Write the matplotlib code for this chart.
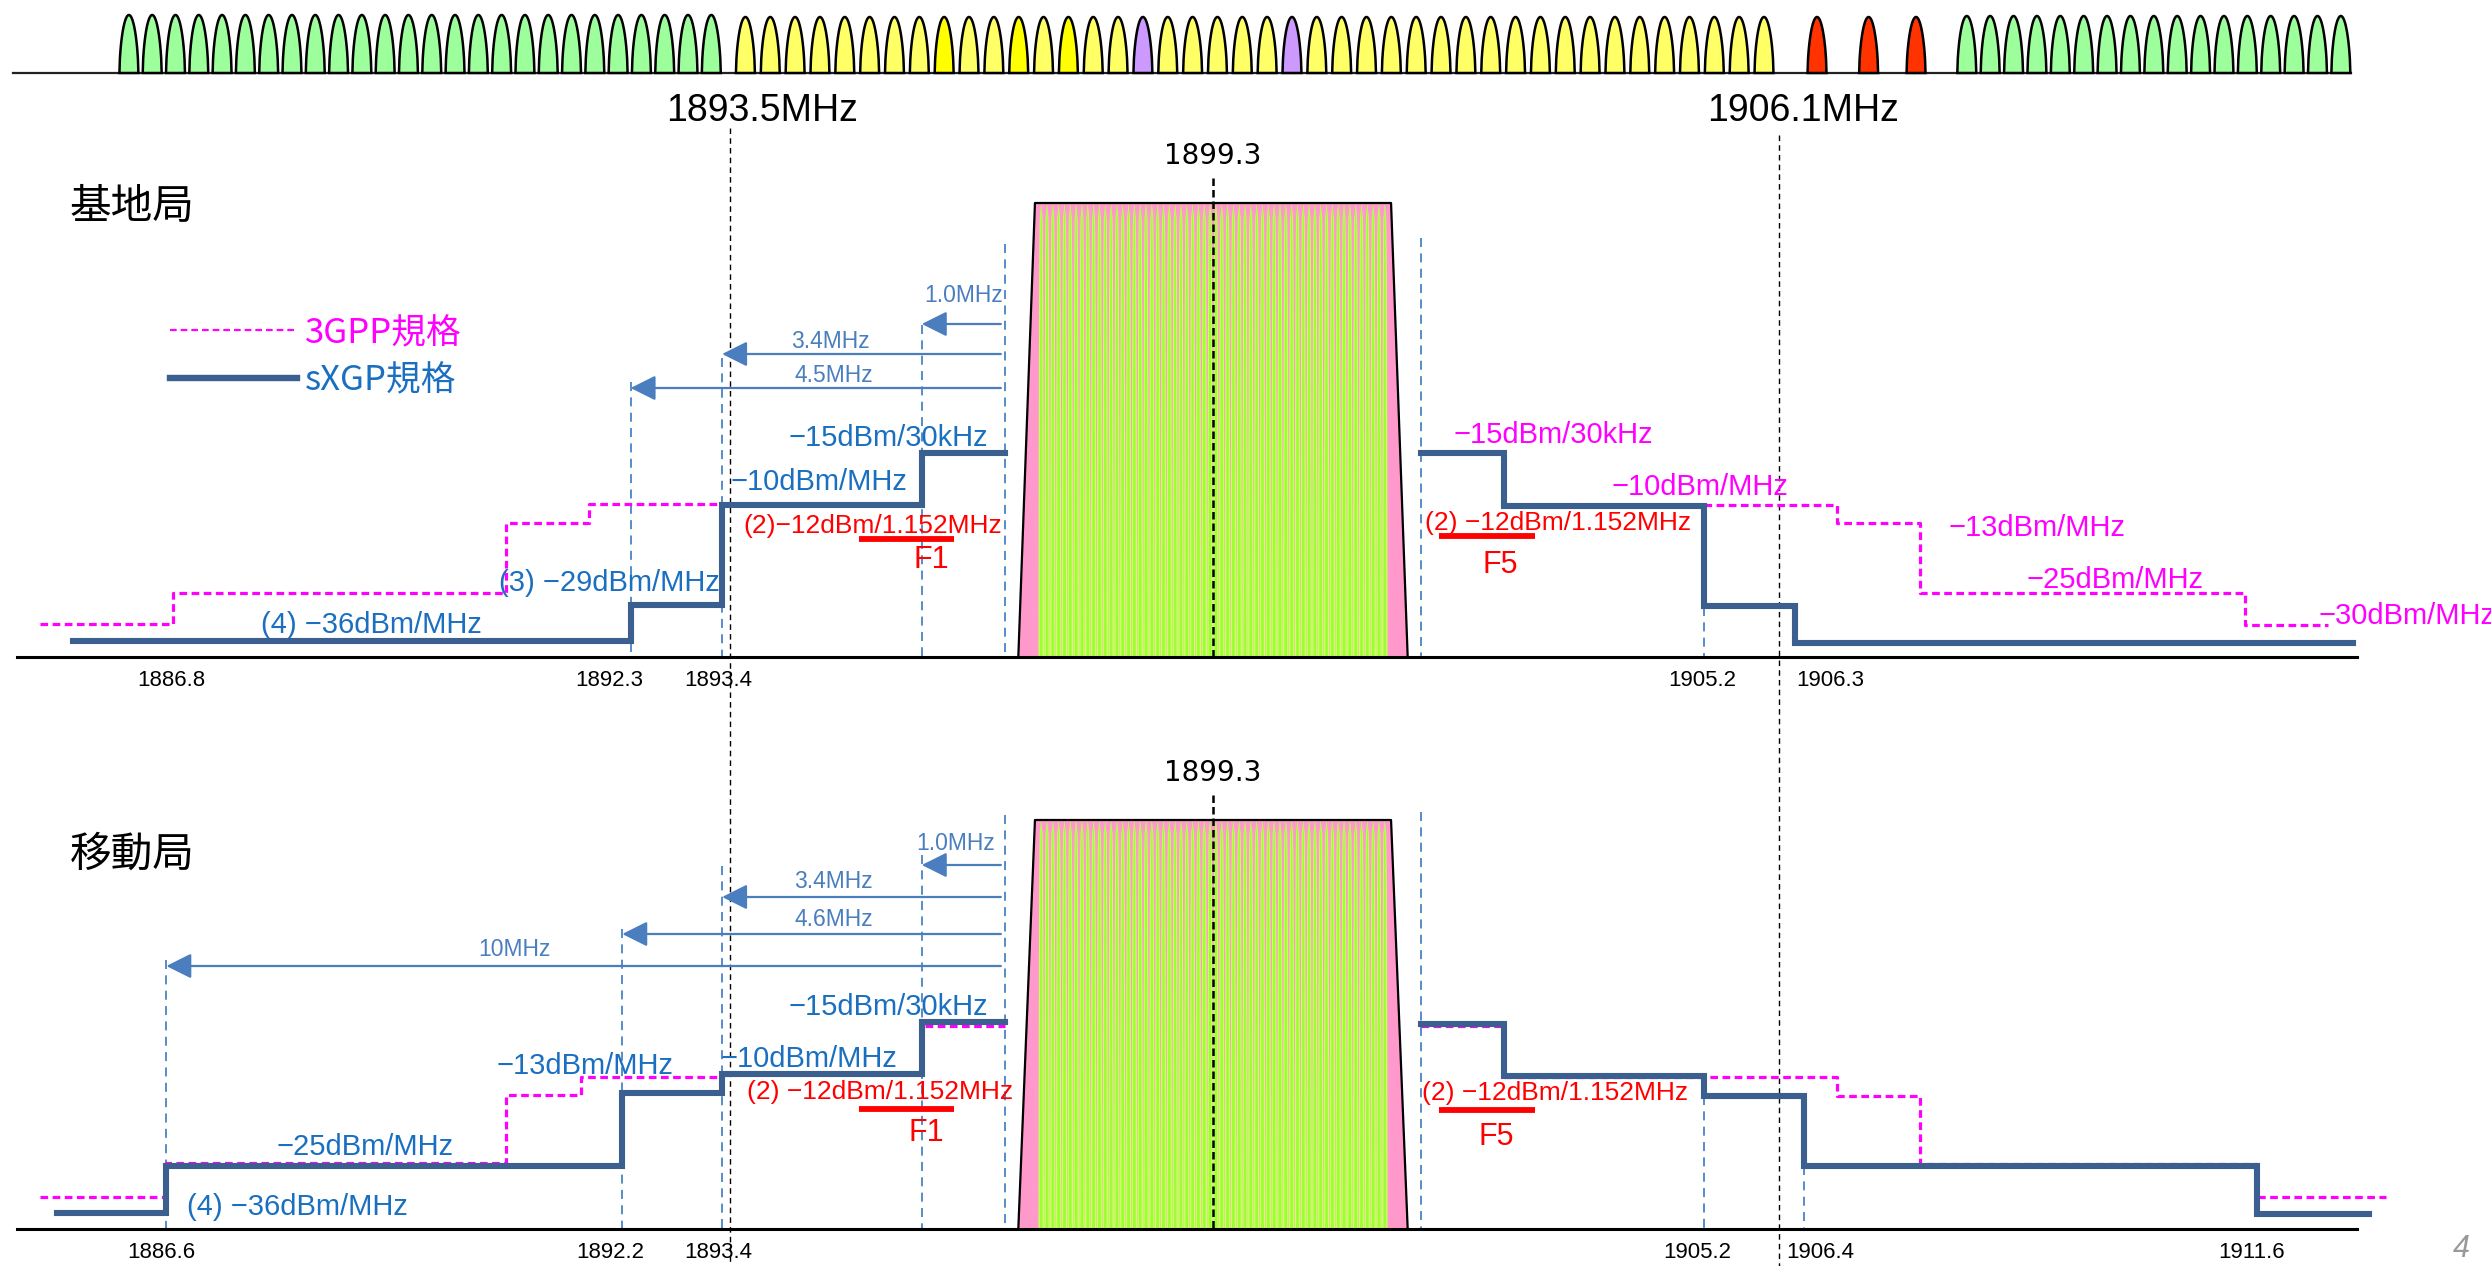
"""sXGP vs 3GPP spectrum emission mask diagram (base station / mobile station)."""
import numpy as np
import matplotlib
matplotlib.use("Agg")
import matplotlib.pyplot as plt
from matplotlib.collections import PolyCollection

# ---- data (frequencies in MHz, mask levels as drawing heights above each panel's axis) ----
BS_SXGP_L_EDGES = [1885.6, 1892.3, 1893.4, 1895.8, 1896.8]
BS_SXGP_L_LEVELS = [16, 52, 152, 204]
BS_SXGP_R_EDGES = [1901.8, 1902.8, 1905.2, 1906.3, 1913.0]
BS_SXGP_R_LEVELS = [204, 151, 51, 14]
BS_3GPP_L_EDGES = [1885.2, 1886.8, 1890.8, 1891.8, 1893.4]
BS_3GPP_L_LEVELS = [33, 64, 134, 153]
BS_3GPP_R_EDGES = [1905.2, 1906.8, 1907.8, 1911.7, 1912.7]
BS_3GPP_R_LEVELS = [152, 134, 64, 32]

MS_SXGP_L_EDGES = [1885.4, 1886.72, 1892.2, 1893.4, 1895.8, 1896.8]
MS_SXGP_L_LEVELS = [16, 63, 136, 155, 207]
MS_SXGP_R_EDGES = [1901.8, 1902.8, 1905.2, 1906.4, 1911.85, 1913.2]
MS_SXGP_R_LEVELS = [205, 153, 133, 63, 15]
MS_3GPP_L_EDGES = [1885.2, 1886.72, 1890.8, 1891.7, 1893.4, 1895.8, 1896.8]
MS_3GPP_L_LEVELS = [32, 66, 134, 152, 155, 203]
MS_3GPP_R_EDGES = [1901.8, 1902.8, 1906.8, 1907.8, 1911.85, 1913.4]
MS_3GPP_R_LEVELS = [203, 152, 133, 65, 32]

BS_ARROW_TIPS = [1895.8, 1893.4, 1892.3]
BS_ARROW_TEXT = ["1.0MHz", "3.4MHz", "4.5MHz"]
MS_ARROW_TIPS = [1895.8, 1893.4, 1892.2, 1886.72]
MS_ARROW_TEXT = ["1.0MHz", "3.4MHz", "4.6MHz", "10MHz"]

BS_GUIDES = [1892.3, 1893.4, 1895.8, 1896.8, 1901.8, 1905.2]
MS_GUIDES = [1886.72, 1892.2, 1893.4, 1895.8, 1896.8, 1901.8, 1905.2, 1906.4]

BS_TICKS = ["1886.8", "1892.3", "1893.4", "1905.2", "1906.3"]
BS_TICK_POS = [1886.78, 1892.04, 1893.35, 1905.18, 1906.72]
MS_TICKS = ["1886.6", "1892.2", "1893.4", "1905.2", "1906.4", "1911.6"]
MS_TICK_POS = [1886.66, 1892.05, 1893.35, 1905.12, 1906.6, 1911.78]

CENTER = 1899.3
BAND_EDGES = [1893.5, 1906.1]
F1_BAND = [1895.04, 1896.19]
F5_BAND = [1902.02, 1903.17]

# top strip: channel groups
GREEN_L_START, GREEN_L_N, GREEN_L_STEP = 1886.27, 26, 0.280
YELLOW_START, YELLOW_N, YELLOW_STEP = 1893.68, 42, 0.2986
YELLOW_BRIGHT = [8, 11, 13]
YELLOW_PURPLE = [16, 22]
RED_CH = [1906.56, 1907.18, 1907.75]
GREEN_R_START, GREEN_R_N, GREEN_R_STEP = 1908.36, 17, 0.281

# ---- style ----
SXGP = "#3b5f8e"
MAG = "#ff00ff"
TXT_BLUE = "#1a6fc0"
ARROW = "#4a7ebf"
GUIDE = "#4a84c4"
RED = "#ff0000"
LAT = ["Liberation Sans", "DejaVu Sans"]
JP = ["Noto Sans CJK JP", "DejaVu Sans"]

F0 = CENTER - 1213 / 83.2
F1 = F0 + 2491 / 83.2

fig = plt.figure(figsize=(24.91, 12.66), dpi=100)
ax = fig.add_axes([0, 0, 1, 1])
ax.set_xlim(F0, F1)
ax.set_ylim(1266, 0)
ax.axis("off")


def steps(edges, levels, base):
    xs = np.repeat(edges, 2)[1:-1]
    ys = base - np.repeat(levels, 2)
    return xs, ys


def label(x, y, s, color="black", size=21, ha="center", family=LAT, **kw):
    ax.text(x, y, s, color=color, fontsize=size, ha=ha, va="center", family=family, **kw)


# ---- top channel strip ----
SB = 73


def bump(xc, h, color, hw=0.114):
    u = np.linspace(-1, 1, 41)
    ax.fill(xc + hw * u, SB - h * (1 - u ** 2) ** 0.6, facecolor=color,
            edgecolor="black", lw=1.8, zorder=3)


ax.plot([1884.88, 1912.98], [SB, SB], color="#222222", lw=1.6, zorder=2)
for i in range(GREEN_L_N):
    bump(GREEN_L_START + i * GREEN_L_STEP, 58, "#9cff9c")
for i in range(YELLOW_N):
    c = "#ffff00" if i in YELLOW_BRIGHT else "#cc99ff" if i in YELLOW_PURPLE else "#ffff66"
    bump(YELLOW_START + i * YELLOW_STEP, 56, c)
for f in RED_CH:
    bump(f, 56, "#ff3300")
for i in range(GREEN_R_N):
    bump(GREEN_R_START + i * GREEN_R_STEP, 57, "#9cff9c")

label(1893.88, 111, "1893.5MHz", size=27)
label(1906.39, 111, "1906.1MHz", size=27)
for f, y0 in zip(BAND_EDGES, [128, 135]):
    ax.plot([f, f], [y0, 1266], color="black", lw=1.0, dashes=(4, 3), zorder=2)


# ---- one mask panel ----
def panel(base, top, title, title_y, sx_l, sx_r, gp_l, gp_r, guides, guide_tops,
          tips, tip_ys, tip_txt, ticks, tick_pos, red_y):
    # axis
    ax.plot([1884.92, 1913.05], [base, base], color="black", lw=2.2, zorder=4)
    # occupied spectrum block
    tx = [1896.96, 1897.16, 1901.44, 1901.64]
    ax.fill([tx[0], tx[1], tx[2], tx[3]], [base, top, top, base], facecolor="#ff99cc",
            edgecolor="none", zorder=2)
    centers = np.linspace(1897.2, 1901.4, 61)
    centers = centers[:-1] + np.diff(centers) / 2
    t = np.linspace(0, 1, 30)
    ys = top + t * (base - top)
    outer, inner = [], []
    for c in centers:
        hw = 0.0335 * t ** 0.2
        outer.append(np.column_stack([np.r_[c - hw, (c + hw)[::-1]], np.r_[ys, ys[::-1]]]))
        hw2 = hw * 0.5
        inner.append(np.column_stack([np.r_[c - hw2, (c + hw2)[::-1]], np.r_[ys, ys[::-1]]]))
    ax.add_collection(PolyCollection(outer, facecolors="#ccff66", edgecolors="none", zorder=2.1))
    ax.add_collection(PolyCollection(inner, facecolors="#9cff33", edgecolors="none", zorder=2.2))
    ax.plot([tx[0], tx[1], tx[2], tx[3]], [base, top, top, base], color="black", lw=1.6,
            zorder=2.5)
    ax.plot([CENTER, CENTER], [top - 25, base], color="black", lw=1.8, dashes=(3, 1.6),
            zorder=2.6)
    label(CENTER, top - 47, "1899.3", size=20, family=["DejaVu Sans"])

    # guides
    for f, y0 in zip(guides, guide_tops):
        ax.plot([f, f], [y0, base], color=GUIDE, lw=1.3, dashes=(5, 3.5), zorder=3)
    # 3GPP (dashed) then sXGP (solid)
    for edges, lev in gp_l + gp_r:
        xs, ys_ = steps(edges, lev, base)
        ax.plot(xs, ys_, color=MAG, lw=2.3, dashes=(2.4, 1.4), zorder=5)
    for edges, lev in sx_l + sx_r:
        xs, ys_ = steps(edges, lev, base)
        ax.plot(xs, ys_, color=SXGP, lw=4.4, solid_joinstyle="miter", zorder=6)
    # offset arrows
    for tip, y, s in zip(tips, tip_ys, tip_txt):
        ax.annotate("", xy=(tip, y), xytext=(1896.75, y),
                    arrowprops=dict(arrowstyle="-|>,head_length=0.7,head_width=0.35",
                                    color=ARROW, lw=1.6, shrinkA=0, shrinkB=0,
                                    mutation_scale=22), zorder=7)
    # F1 / F5 bars
    ax.plot(F1_BAND, [red_y[0], red_y[0]], color=RED, lw=4.2, solid_capstyle="butt", zorder=7)
    ax.plot(F5_BAND, [red_y[1], red_y[1]], color=RED, lw=4.2, solid_capstyle="butt", zorder=7)
    for f, s in zip(tick_pos, ticks):
        label(f, base + 23, s, size=16)
    label(1885.56, title_y, title, size=30, ha="left", family=JP)


panel(657, 203, "基地局", 207,
      [(BS_SXGP_L_EDGES, BS_SXGP_L_LEVELS)], [(BS_SXGP_R_EDGES, BS_SXGP_R_LEVELS)],
      [(BS_3GPP_L_EDGES, BS_3GPP_L_LEVELS)], [(BS_3GPP_R_EDGES, BS_3GPP_R_LEVELS)],
      BS_GUIDES, [382, 358, 325, 244, 238, 607],
      BS_ARROW_TIPS, [324, 354, 388], BS_ARROW_TEXT, BS_TICKS, BS_TICK_POS, [539, 536])

panel(1229, 820, "移動局", 855,
      [(MS_SXGP_L_EDGES, MS_SXGP_L_LEVELS)], [(MS_SXGP_R_EDGES, MS_SXGP_R_LEVELS)],
      [(MS_3GPP_L_EDGES, MS_3GPP_L_LEVELS)], [(MS_3GPP_R_EDGES, MS_3GPP_R_LEVELS)],
      MS_GUIDES, [960, 929, 866, 855, 815, 812, 1096, 1166],
      MS_ARROW_TIPS, [865, 897, 934, 966], MS_ARROW_TEXT, MS_TICKS, MS_TICK_POS, [1109, 1110])

# arrow labels
label(1896.78, 296, BS_ARROW_TEXT[0], color=ARROW, size=16.5, ha="right")
label(1894.70, 342, BS_ARROW_TEXT[1], color=ARROW, size=16.5)
label(1894.74, 376, BS_ARROW_TEXT[2], color=ARROW, size=16.5)
label(1896.68, 843, MS_ARROW_TEXT[0], color=ARROW, size=16.5, ha="right")
label(1894.74, 882, MS_ARROW_TEXT[1], color=ARROW, size=16.5)
label(1894.74, 920, MS_ARROW_TEXT[2], color=ARROW, size=16.5)
label(1890.90, 950, MS_ARROW_TEXT[3], color=ARROW, size=16.5)

# legend
ax.plot([1886.76, 1888.29], [330, 330], color=MAG, lw=1.6, dashes=(3, 1.8))
ax.plot([1886.76, 1888.29], [378, 378], color=SXGP, lw=4.6)
label(1888.39, 334, "3GPP規格", color=MAG, size=25, ha="left", family=JP)
label(1888.39, 381, "sXGP規格", color=TXT_BLUE, size=25, ha="left", family=JP)

# base station labels
label(1895.40, 438, "−15dBm/30kHz", color=TXT_BLUE)
label(1894.56, 482, "−10dBm/MHz", color=TXT_BLUE)
label(1895.21, 526, "(2)−12dBm/1.152MHz", color=RED, size=19)
label(1895.91, 560, "F1", color=RED, size=22)
label(1892.05, 583, "(3) −29dBm/MHz", color=TXT_BLUE)
label(1889.18, 625, "(4) −36dBm/MHz", color=TXT_BLUE)
label(1903.39, 435, "−15dBm/30kHz", color=MAG)
label(1905.15, 487, "−10dBm/MHz", color=MAG)
label(1903.45, 523, "(2) −12dBm/1.152MHz", color=RED, size=19)
label(1902.75, 565, "F5", color=RED, size=22)
label(1909.20, 528, "−13dBm/MHz", color=MAG)
label(1910.14, 580, "−25dBm/MHz", color=MAG)
label(1912.59, 616, "−30dBm/MHz", color=MAG, ha="left")

# mobile station labels
label(1895.40, 1007, "−15dBm/30kHz", color=TXT_BLUE)
label(1894.44, 1059, "−10dBm/MHz", color=TXT_BLUE)
label(1891.75, 1066, "−13dBm/MHz", color=TXT_BLUE)
label(1895.30, 1092, "(2) −12dBm/1.152MHz", color=RED, size=19)
label(1895.86, 1133, "F1", color=RED, size=22)
label(1889.11, 1147, "−25dBm/MHz", color=TXT_BLUE)
label(1888.29, 1207, "(4) −36dBm/MHz", color=TXT_BLUE)
label(1903.41, 1093, "(2) −12dBm/1.152MHz", color=RED, size=19)
label(1902.71, 1137, "F5", color=RED, size=22)

# page number in the bottom-right corner
ax.text(1914.30, 1264, "4", color="#999999", fontsize=22, ha="center", va="bottom",
        family=LAT, style="italic")

fig.savefig("out.png", dpi=100)
